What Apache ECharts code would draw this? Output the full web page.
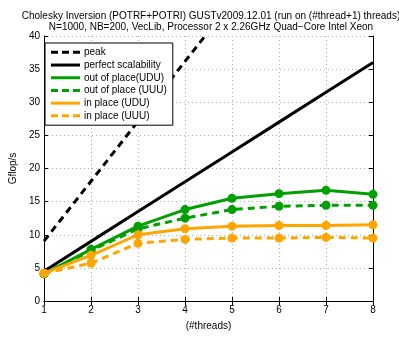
<!DOCTYPE html>
<html><head><meta charset="utf-8">
<script src="https://cdn.jsdelivr.net/npm/echarts@6/dist/echarts.min.js"></script>
<style>html,body{margin:0;padding:0;background:#fff}#c{width:399px;height:347px}</style>
</head><body><div id="c"></div>
<script>
const threads = [1, 2, 3, 4, 5, 6, 7, 8];
const peak = [9.04, 18.08, 27.12, 36.16, 45.2, 54.24, 63.28, 72.32];
const perfect = [4.5, 9.0, 13.5, 18.0, 22.5, 27.0, 31.5, 36.0];
const outUDU = [4.1, 7.8, 11.3, 13.8, 15.5, 16.2, 16.7, 16.1];
const outUUU = [4.1, 7.6, 10.9, 12.5, 13.8, 14.3, 14.45, 14.45];
const inUDU = [4.2, 6.9, 10.0, 10.9, 11.3, 11.4, 11.4, 11.5];
const inUUU = [4.2, 5.7, 8.7, 9.3, 9.5, 9.5, 9.6, 9.5];
const yTicks = [0, 5, 10, 15, 20, 25, 30, 35, 40];
const names = ['peak', 'perfect scalability', 'out of place(UDU)', 'out of place (UUU)', 'in place (UDU)', 'in place (UUU)'];
const titleText = 'Cholesky Inversion (POTRF+POTRI) GUSTv2009.12.01 (run on (#thread+1) threads)\nN=1000, NB=200, VecLib, Processor 2 x 2.26GHz Quad\u2212Core Intel Xeon';

const GREEN = '#00a000', ORANGE = '#ffa500';
const FONT = 'Liberation Sans';
const pairs = arr => threads.map((t, i) => [t, arr[i]]);
const dashIcon = 'path://M0,0h7v3h-7z M11,0h7v3h-7z M22,0h7v3h-7z';
const solidIcon = 'path://M0,0h29v3h-29z';

const chart = echarts.init(document.getElementById('c'), null, {renderer: 'canvas'});
const gridLine = {show: true, lineStyle: {color: '#b0b0b0', type: [1, 3], width: 1}};
const mkLine = (name, data, color, dashed, sym) => ({
  name, type: 'line', data: pairs(data),
  symbol: sym ? 'circle' : 'none', symbolSize: 9,
  itemStyle: {color},
  lineStyle: {color, width: 3, type: dashed ? [7, 5] : 'solid'},
  emphasis: {disabled: true}, animation: false, clip: true
});
chart.setOption({
  animation: false,
  backgroundColor: '#fff',
  textStyle: {fontFamily: FONT},
  title: {
    text: titleText, left: 206, top: 6, textAlign: 'center',
    textStyle: {fontFamily: FONT, fontSize: 10, fontWeight: 'normal', color: '#000', lineHeight: 11}
  },
  grid: {left: 38, right: 26, top: 36, bottom: 46, containLabel: false},
  legend: {
    left: 45, top: 43, orient: 'vertical',
    itemWidth: 29, itemHeight: 3, itemGap: 0,
    padding: [3, 6, 3, 6],
    borderColor: '#000', borderWidth: 1, backgroundColor: '#fff',
    textStyle: {fontFamily: FONT, fontSize: 10, color: '#000', lineHeight: 12.7, padding: [0, 0, 0, -1]},
    data: [
      {name: names[0], icon: dashIcon, itemStyle: {color: '#000'}},
      {name: names[1], icon: solidIcon, itemStyle: {color: '#000'}},
      {name: names[2], icon: solidIcon, itemStyle: {color: GREEN}},
      {name: names[3], icon: dashIcon, itemStyle: {color: GREEN}},
      {name: names[4], icon: solidIcon, itemStyle: {color: ORANGE}},
      {name: names[5], icon: dashIcon, itemStyle: {color: ORANGE}}
    ],
    selectedMode: false
  },
  xAxis: [{
    type: 'value', min: 1, max: 8, interval: 1,
    name: '(#threads)', nameLocation: 'middle', nameGap: 20,
    nameTextStyle: {fontFamily: FONT, fontSize: 10, color: '#000'},
    axisLine: {show: true, lineStyle: {color: '#000', width: 1}},
    axisTick: {show: true, inside: true, length: 4, lineStyle: {color: '#000'}},
    axisLabel: {fontFamily: FONT, fontSize: 10, color: '#000', margin: 4},
    splitLine: gridLine
  }, {
    type: 'value', min: 1, max: 8, interval: 1, position: 'top',
    axisLine: {show: true, lineStyle: {color: '#000', width: 1}},
    axisTick: {show: true, inside: true, length: 4, lineStyle: {color: '#000'}},
    axisLabel: {show: false}, splitLine: {show: false}
  }],
  yAxis: [{
    type: 'value', min: 0, max: 40, interval: 5,
    name: 'Gflop/s', nameLocation: 'middle', nameGap: 19, nameRotate: 90,
    nameTextStyle: {fontFamily: FONT, fontSize: 10, color: '#000'},
    axisLine: {show: true, lineStyle: {color: '#000', width: 1}},
    axisTick: {show: true, inside: true, length: 4, lineStyle: {color: '#000'}},
    axisLabel: {fontFamily: FONT, fontSize: 10, color: '#000', margin: 4,
      customValues: yTicks},
    splitLine: gridLine
  }, {
    type: 'value', min: 0, max: 40, interval: 5, position: 'right',
    axisLine: {show: true, lineStyle: {color: '#000', width: 1}},
    axisTick: {show: true, inside: true, length: 4, lineStyle: {color: '#000'}},
    axisLabel: {show: false}, splitLine: {show: false}
  }],
  series: [
    mkLine(names[0], peak, '#000', true, false),
    mkLine(names[1], perfect, '#000', false, false),
    mkLine(names[2], outUDU, GREEN, false, true),
    mkLine(names[3], outUUU, GREEN, true, true),
    mkLine(names[4], inUDU, ORANGE, false, true),
    mkLine(names[5], inUUU, ORANGE, true, true)
  ]
});
</script></body></html>
